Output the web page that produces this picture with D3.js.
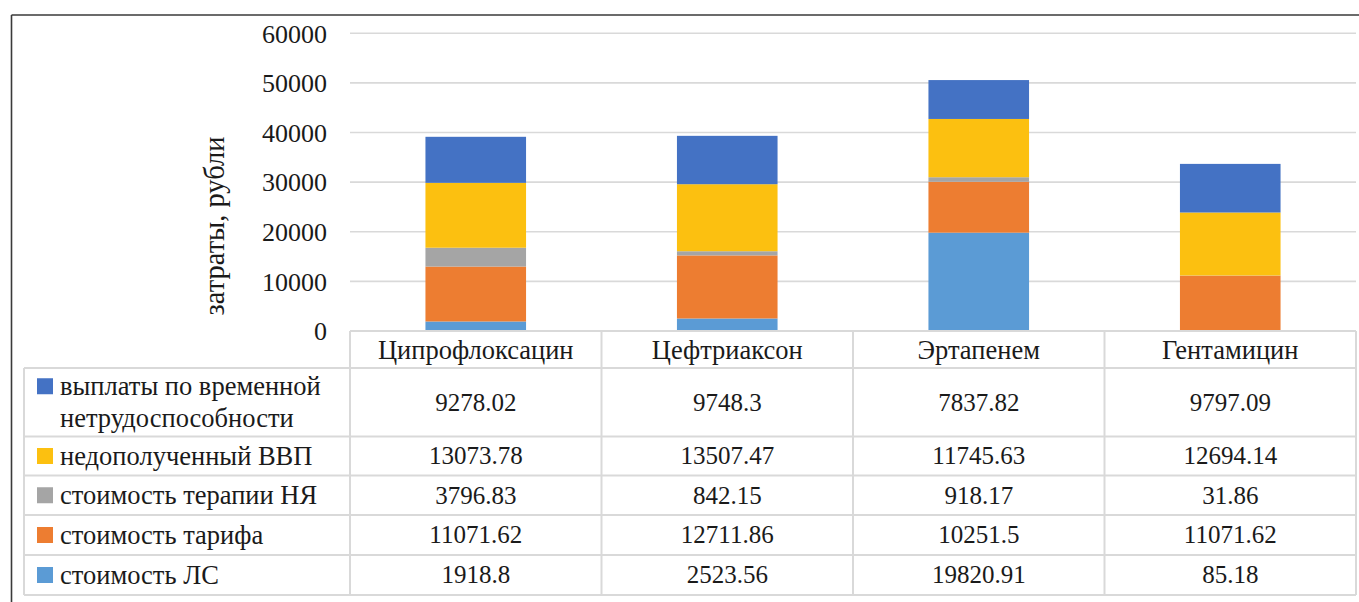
<!DOCTYPE html>
<html><head><meta charset="utf-8">
<script src="https://cdn.jsdelivr.net/npm/d3@7/dist/d3.min.js"></script>
<style>html,body{margin:0;padding:0;background:#fff;overflow:hidden}svg{display:block}
svg text{font-family:"Liberation Serif","Times New Roman",Times,"DejaVu Serif",serif;}</style>
</head><body>
<svg id="c" width="1359" height="602"></svg>
<script>
const categories = ["Ципрофлоксацин","Цефтриаксон","Эртапенем","Гентамицин"];
const seriesNames = ["стоимость ЛС","стоимость тарифа","стоимость терапии НЯ","недополученный ВВП","выплаты по временной нетрудоспособности"];
const seriesLabelLines = [["стоимость ЛС"],["стоимость тарифа"],["стоимость терапии НЯ"],["недополученный ВВП"],["выплаты по временной","нетрудоспособности"]];
const seriesColors = ["#5b9bd5","#ed7d31","#a5a5a5","#fcc010","#4472c4"];
const costLS      = [1918.8, 2523.56, 19820.91, 85.18];
const costTariff  = [11071.62, 12711.86, 10251.5, 11071.62];
const costAE      = [3796.83, 842.15, 918.17, 31.86];
const lostGDP     = [13073.78, 13507.47, 11745.63, 12694.14];
const sickPay     = [9278.02, 9748.3, 7837.82, 9797.09];
const valueLabels = [["1918.8","2523.56","19820.91","85.18"],["11071.62","12711.86","10251.5","11071.62"],["3796.83","842.15","918.17","31.86"],["13073.78","13507.47","11745.63","12694.14"],["9278.02","9748.3","7837.82","9797.09"]];
const yTicks = [0,10000,20000,30000,40000,50000,60000];
const yTitle = "затраты, рубли";

const seriesValues = [costLS, costTariff, costAE, lostGDP, sickPay];
const rows = categories.map((c,i)=>{const o={cat:c}; seriesNames.forEach((s,j)=>o[s]=seriesValues[j][i]); return o;});
const stack = d3.stack().keys(seriesNames)(rows);

const svg = d3.select("#c");
const textCol = "#1a1a1a";
const gridCol = "#d9d9d9";

const x0 = 350, x1 = 1356;
const x = d3.scaleBand().domain(categories).range([x0,x1]).paddingInner(0).paddingOuter(0);
const y = d3.scaleLinear().domain([0,60000]).range([331,33.3]);

// outer frame
svg.append("line").attr("x1",11.5).attr("x2",1359).attr("y1",15).attr("y2",15).attr("stroke","#3a3a3a").attr("stroke-width",1.6);
svg.append("line").attr("x1",11.5).attr("x2",11.5).attr("y1",15).attr("y2",602).attr("stroke","#3a3a3a").attr("stroke-width",1.6);

// gridlines
svg.append("g").selectAll("line").data(yTicks.filter(t=>t>0)).join("line")
  .attr("x1",x0).attr("x2",x1).attr("y1",d=>y(d)).attr("y2",d=>y(d))
  .attr("stroke",gridCol).attr("stroke-width",1.6);

// y axis labels
const yAxis = d3.axisLeft(y).tickValues(yTicks).tickSize(0).tickPadding(0).tickFormat(d3.format("d"));
const ga = svg.append("g").attr("transform","translate(327,0)").call(yAxis);
ga.select(".domain").remove();
ga.attr("font-family",null).attr("font-size",null);
ga.selectAll("text").style("font-size","26px").attr("fill",textCol).attr("dy","0.34em");

// y title
svg.append("text").attr("transform","translate(214,226) rotate(-90)").attr("text-anchor","middle")
  .attr("dominant-baseline","central").style("font-size","28.5px").attr("fill",textCol).text(yTitle);

// bars
const bw = x.bandwidth()*0.4;
svg.append("g").selectAll("g").data(stack).join("g").attr("fill",(d,i)=>seriesColors[i])
  .selectAll("rect").data(d=>d).join("rect")
  .attr("x",d=>x(d.data.cat)+(x.bandwidth()-bw)/2).attr("width",bw)
  .attr("y",d=>y(d[1])).attr("height",d=>y(d[0])-y(d[1]));

// table
const tableLeft = 24;
const rowEdges = [331,368,436.5,475.5,515,555,595];
const tg = svg.append("g");
tg.append("line").attr("x1",x0).attr("x2",x1).attr("y1",rowEdges[0]).attr("y2",rowEdges[0]).attr("stroke",gridCol).attr("stroke-width",2);
rowEdges.slice(1).forEach(e=>tg.append("line").attr("x1",tableLeft).attr("x2",x1).attr("y1",e).attr("y2",e).attr("stroke",gridCol).attr("stroke-width",2));
tg.append("line").attr("x1",tableLeft).attr("x2",tableLeft).attr("y1",rowEdges[1]).attr("y2",rowEdges[6]).attr("stroke",gridCol).attr("stroke-width",2);
categories.forEach(c=>tg.append("line").attr("x1",x(c)).attr("x2",x(c)).attr("y1",rowEdges[0]).attr("y2",rowEdges[6]).attr("stroke",gridCol).attr("stroke-width",2));
tg.append("line").attr("x1",x1).attr("x2",x1).attr("y1",rowEdges[0]).attr("y2",rowEdges[6]).attr("stroke",gridCol).attr("stroke-width",2);

tg.selectAll("text.cat").data(categories).join("text").attr("class","cat")
  .attr("x",d=>x(d)+x.bandwidth()/2).attr("y",(rowEdges[0]+rowEdges[1])/2).attr("dy","0.35em")
  .attr("text-anchor","middle").style("font-size","26.5px").attr("fill",textCol).text(d=>d);

const order = [4,3,2,1,0];
order.forEach((si,ri)=>{
  const top = rowEdges[ri+1], bot = rowEdges[ri+2], mid = (top+bot)/2;
  const lines = seriesLabelLines[si];
  const lh = 32;
  const firstY = mid - (lines.length-1)*lh/2;
  tg.append("rect").attr("x",37).attr("y",firstY-8).attr("width",16).attr("height",16).attr("fill",seriesColors[si]);
  lines.forEach((l,k)=>tg.append("text").attr("x",60).attr("y",firstY+k*lh).attr("dy","0.33em")
    .style("font-size","26.5px").attr("fill",textCol).text(l));
  categories.forEach((c,ci)=>tg.append("text").attr("x",x(c)+x.bandwidth()/2).attr("y",mid).attr("dy","0.33em")
    .attr("text-anchor","middle").style("font-size","25px").attr("fill",textCol).text(valueLabels[si][ci]));
});
</script>
</body></html>
